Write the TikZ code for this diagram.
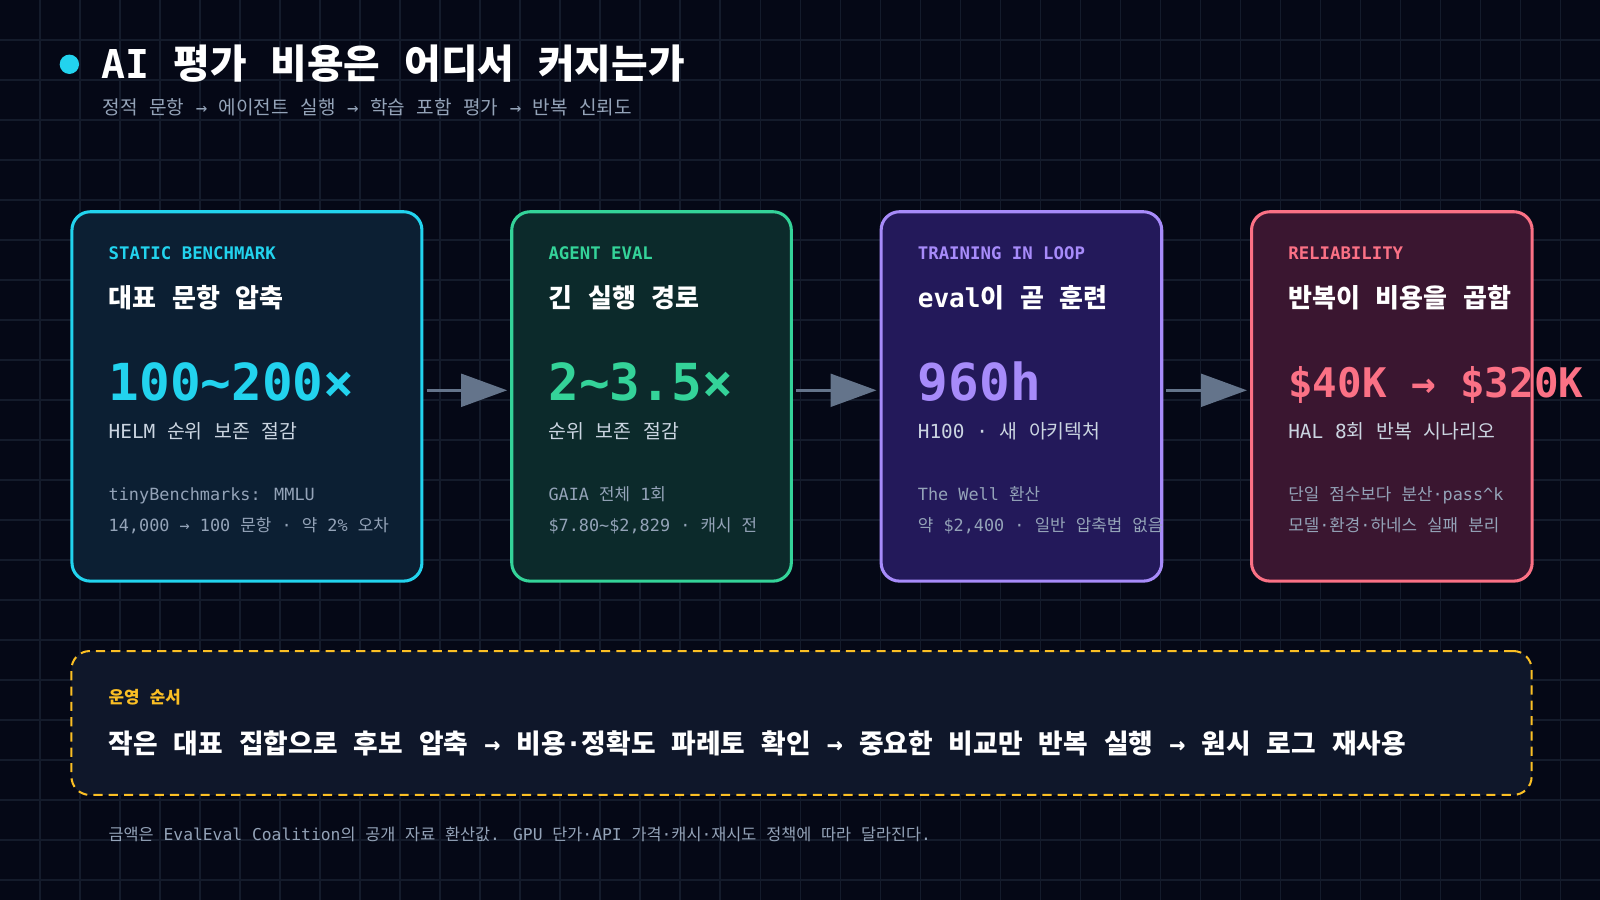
\documentclass[tikz,border=0pt]{standalone}
\usepackage{fontspec}
\usetikzlibrary{arrows.meta,calc}
\setmainfont{DejaVu Sans Mono}
\newfontfamily\krfont{Noto Sans CJK KR}
\makeatletter
\XeTeXinterchartokenstate=1
\newXeTeXintercharclass\krclass
\count@="AC00
\loop\ifnum\count@<"D7A4 \XeTeXcharclass\count@=\krclass \advance\count@ by 1 \repeat
\XeTeXinterchartoks 0 \krclass = {\begingroup\krfont}
\XeTeXinterchartoks 4095 \krclass = {\begingroup\krfont}
\XeTeXinterchartoks \krclass 0 = {\endgroup}
\XeTeXinterchartoks \krclass 4095 = {\endgroup}
\makeatother
\definecolor{bg}{HTML}{050816}
\definecolor{gridc}{HTML}{141B2B}
\definecolor{cyanc}{HTML}{22D3EE}
\definecolor{greenc}{HTML}{34D399}
\definecolor{purc}{HTML}{A78BFA}
\definecolor{redc}{HTML}{FB7185}
\definecolor{f1}{HTML}{0C1F33}
\definecolor{f2}{HTML}{0C2A2B}
\definecolor{f3}{HTML}{23195A}
\definecolor{f4}{HTML}{3A1630}
\definecolor{subg}{HTML}{CBD5E1}
\definecolor{noteg}{HTML}{94A3B8}
\definecolor{arr}{HTML}{64748B}
\definecolor{yel}{HTML}{FBBF24}
\definecolor{boxf}{HTML}{0F172A}
\begin{document}
\begin{tikzpicture}[x=1pt,y=-1pt,
  card/.style={draw, line width=3pt, rounded corners=18pt, anchor=north west, minimum height=362pt},
  lab/.style={anchor=base west, font=\fontsize{17}{20}\selectfont\bfseries},
  head/.style={anchor=base west, text=white, font=\fontsize{25.5}{30}\selectfont\bfseries},
  big/.style={anchor=base west, font=\fontsize{50}{56}\selectfont\bfseries},
  sub/.style={anchor=base west, text=subg, font=\fontsize{19}{22}\selectfont},
  note/.style={anchor=base west, text=noteg, font=\fontsize{16.5}{20}\selectfont},
  arrw/.style={draw=arr, fill=arr, line width=3pt, -{Triangle[length=45pt,width=32pt]}}]
\fill[bg] (0,0) rectangle (1568,882);
\useasboundingbox (0,0) rectangle (1568,882);
\foreach \i in {1,...,39} \draw[gridc, line width=1pt] (39.2*\i,0) -- (39.2*\i,882);
\foreach \i in {1,...,22} \draw[gridc, line width=1pt] (0,39.2*\i) -- (1568,39.2*\i);
% title
\fill[cyanc] (68,63) circle (9.5);
\node[anchor=base west, text=white, font=\fontsize{39}{44}\selectfont\bfseries] (title) at (96,77) {AI 평가 비용은 어디서 커지는가};
\node[anchor=base west, text=noteg, font=\fontsize{18.7}{22}\selectfont] (subt) at (97,112) {정적 문항 → 에이전트 실행 → 학습 포함 평가 → 반복 신뢰도};
% cards
\node[card, draw=cyanc, fill=f1, minimum width=343pt] (c1) at (69,206) {};
\node[card, draw=greenc, fill=f2, minimum width=274pt] (c2) at (500,206) {};
\node[card, draw=purc, fill=f3, minimum width=275pt] (c3) at (862,206) {};
\node[card, draw=redc, fill=f4, minimum width=275pt] (c4) at (1225,206) {};
% card 1
\node[lab, text=cyanc] (l1) at (103,254) {STATIC BENCHMARK};
\node[head] (h1) at (103,301) {대표 문항 압축};
\node[big, text=cyanc] (b1) at (103,392) {100\textasciitilde200×};
\node[sub] (s1) at (103,430) {HELM 순위 보존 절감};
\node[note] (n1a) at (103,490) {tinyBenchmarks: MMLU};
\node[note] (n1b) at (103,521) {14,000 → 100 문항 · 약 2\% 오차};
% card 2
\node[lab, text=greenc] (l2) at (534,254) {AGENT EVAL};
\node[head] (h2) at (534,301) {긴 실행 경로};
\node[big, text=greenc] (b2) at (534,392) {2\textasciitilde3.5×};
\node[sub] (s2) at (534,430) {순위 보존 절감};
\node[note] (n2a) at (534,490) {GAIA 전체 1회};
\node[note] (n2b) at (534,521) {\$7.80\textasciitilde\$2,829 · 캐시 전};
% card 3
\node[lab, text=purc] (l3) at (896,254) {TRAINING IN LOOP};
\node[head] (h3) at (896,301) {eval이 곧 훈련};
\node[big, text=purc] (b3) at (896,392) {960h};
\node[sub] (s3) at (896,430) {H100 · 새 아키텍처};
\node[note] (n3a) at (896,490) {The Well 환산};
\node[note] (n3b) at (896,521) {약 \$2,400 · 일반 압축법 없음};
% card 4
\node[lab, text=redc] (l4) at (1259,254) {RELIABILITY};
\node[head] (h4) at (1259,301) {반복이 비용을 곱함};
\node[big, text=redc, font=\fontsize{40}{46}\selectfont\bfseries] (b4) at (1259,390) {\$40K → \$320K};
\node[sub] (s4) at (1259,430) {HAL 8회 반복 시나리오};
\node[note] (n4a) at (1259,490) {단일 점수보다 분산·pass\textasciicircum k};
\node[note] (n4b) at (1259,521) {모델·환경·하네스 실패 분리};
% arrows
\draw[arrw] ($(c1.east)+(3,-6)$) -- ($(c2.west)+(-3,-6)$);
\draw[arrw] ($(c2.east)+(3,-6)$) -- ($(c3.west)+(-3,-6)$);
\draw[arrw] ($(c3.east)+(3,-6)$) -- ($(c4.west)+(-3,-6)$);
% bottom box
\node[draw=yel, fill=boxf, line width=2pt, dash pattern=on 9pt off 6pt, rounded corners=18pt, anchor=north west, minimum width=1431pt, minimum height=141pt] (ops) at (69,637) {};
\node[anchor=base west, text=yel, font=\fontsize{16.5}{20}\selectfont\bfseries] (opl) at (103,689) {운영 순서};
\node[anchor=base west, text=white, font=\fontsize{26.2}{30}\selectfont\bfseries] (opt) at (103,738) {작은 대표 집합으로 후보 압축 → 비용·정확도 파레토 확인 → 중요한 비교만 반복 실행 → 원시 로그 재사용};
% footer
\node[anchor=base west, text=noteg, font=\fontsize{16}{20}\selectfont] (foot) at (103,824) {금액은 EvalEval Coalition의 공개 자료 환산값. GPU 단가·API 가격·캐시·재시도 정책에 따라 달라진다.};
\end{tikzpicture}
\end{document}
